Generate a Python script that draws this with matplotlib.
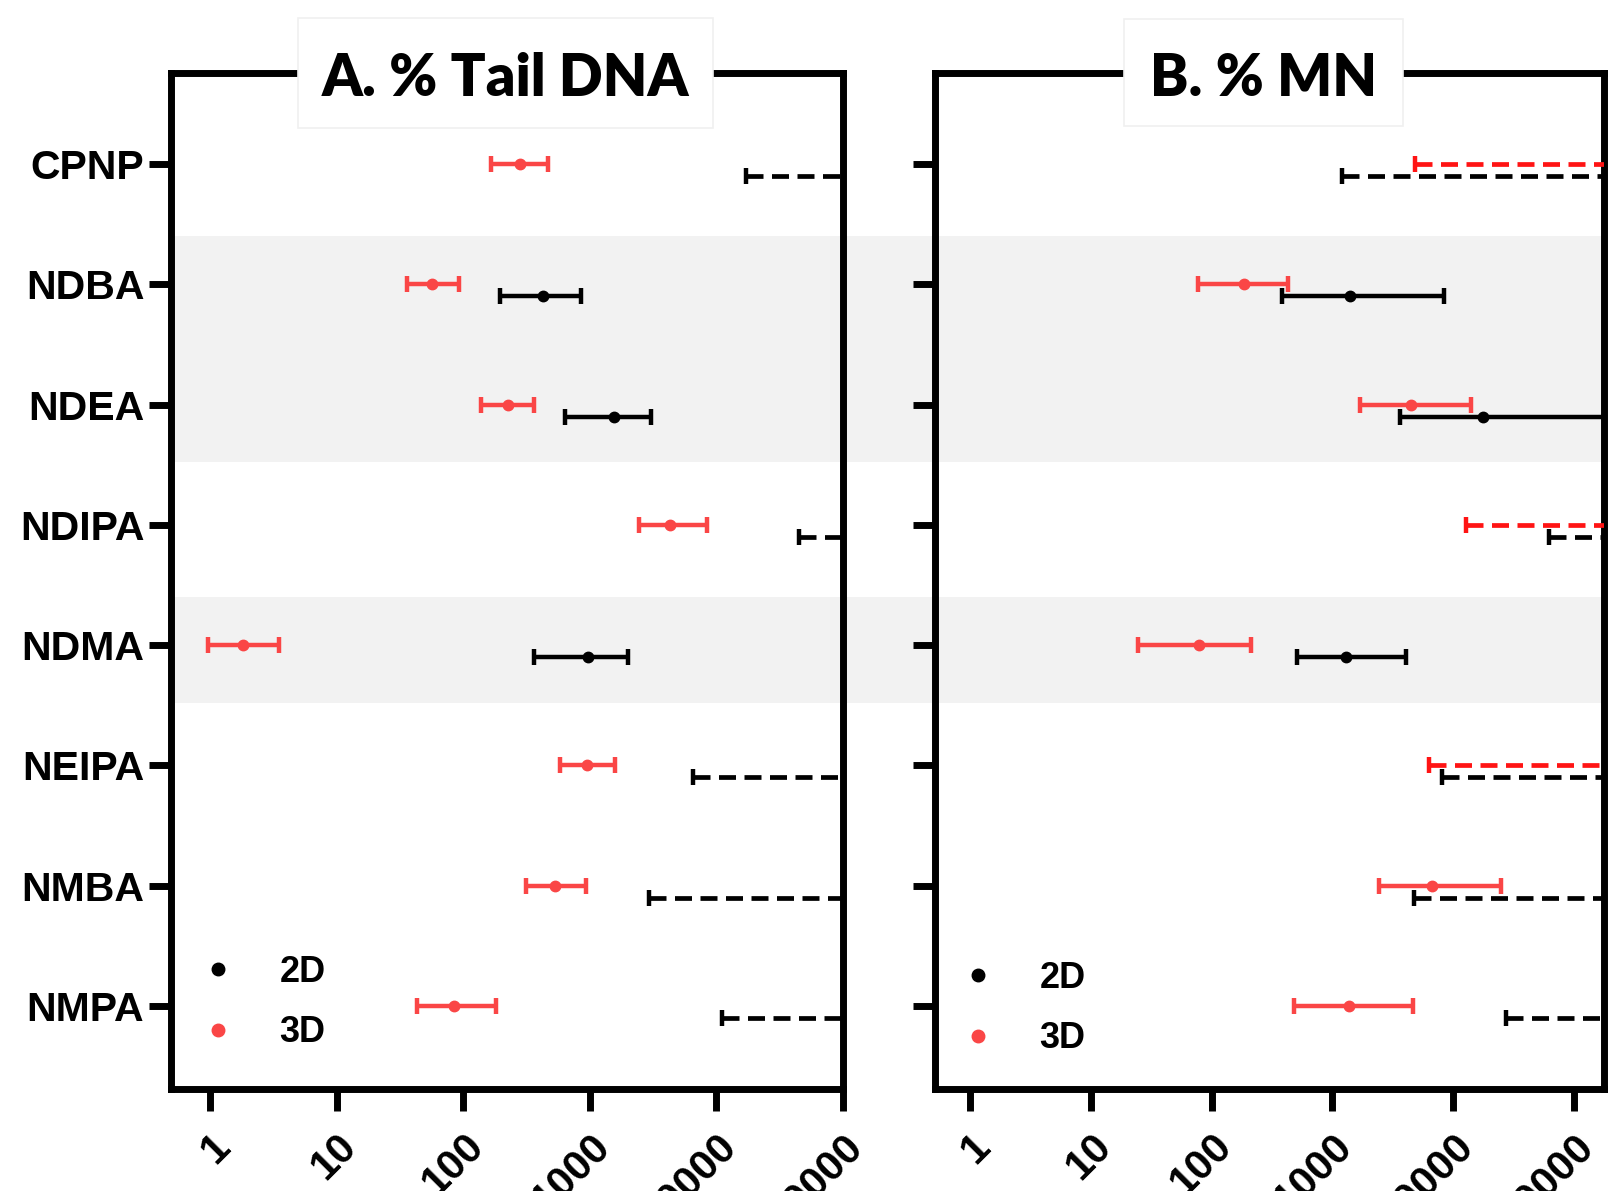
import numpy as np
import matplotlib
matplotlib.use("Agg")
import matplotlib.pyplot as plt
from matplotlib.patches import Rectangle
from matplotlib.lines import Line2D
from matplotlib import font_manager

# ---------------- data ----------------
categories = ['CPNP', 'NDBA', 'NDEA', 'NDIPA', 'NDMA', 'NEIPA', 'NMBA', 'NMPA']
OPEN = np.nan  # open-ended (lower bound only, dashed to axis end)

# Panel A: % Tail DNA
a_2d_center = [np.nan, 424, 1555, np.nan, 970, np.nan, np.nan, np.nan]
a_2d_low    = [17000, 195, 641, 45300, 364, 6500, 2950, 11000]
a_2d_high   = [OPEN, 850, 3060, OPEN, 2020, OPEN, OPEN, OPEN]
a_3d_center = [280, 57, 227, 4300, 1.83, 952, 531, 84]
a_3d_low    = [165, 36, 139, 2440, 0.96, 583, 313, 43]
a_3d_high   = [466, 92, 364, 8470, 3.53, 1585, 934, 181]

# Panel B: % MN
b_2d_center = [np.nan, 1404, 17600, np.nan, 1297, np.nan, np.nan, np.nan]
b_2d_low    = [1200, 381, 3625, 62200, 513, 8140, 4780, 27700]
b_2d_high   = [OPEN, 8470, 260000, OPEN, 4075, OPEN, OPEN, OPEN]
b_3d_center = [np.nan, 184, 4505, np.nan, 78.6, np.nan, 6680, 1377]
b_3d_low    = [4870, 77, 1710, 12800, 24.5, 6300, 2440, 483]
b_3d_high   = [OPEN, 430, 14150, OPEN, 211, OPEN, 25100, 4680]

xtick_vals = [1, 10, 100, 1000, 10000, 100000]
xtick_labels = ['1', '10', '100', '1000', '10000', '100000']
titles = ['A. % Tail DNA', 'B. % MN']
series_labels = ['2D', '3D']
shaded_groups = [(1, 2), (4, 4)]

# ---------------- style ----------------
BLACK = '#000000'
RED = '#fa4646'
RED_DASH = '#ff1414'
BAND = '#f2f2f2'
LABEL_FONT = 'Liberation Sans'
TITLE_FONT = 'Lato'

installed = {f.name for f in font_manager.fontManager.ttflist}
if 'Liberation Sans Narrow' in installed:
    CAT_FONT, CAT_SIZE = 'Liberation Sans Narrow', 33
else:
    CAT_FONT, CAT_SIZE = 'Liberation Sans', 29.5

W, H = 1624, 1191
fig = plt.figure(figsize=(W / 100, H / 100), dpi=100)


def fx(px):
    return px / W


def fy(py):
    return 1 - py / H


axA = fig.add_axes([fx(170.7), fy(1089), fx(672.3), 1016.5 / H])
axB = fig.add_axes([fx(934.6), fy(1089), fx(669.4), 1016.5 / H])

xlims = [(0.49, 100000), (0.507, 178000)]
YLIM = (7.69, -0.76)
OFF_2D = 0.10
OFF_3D = 0.0
DASH = (0, (3.6, 1.8))


def draw_series(ax, center, low, high, yoff, color, dash_color):
    xmax = ax.get_xlim()[1]
    ys = np.arange(len(categories)) + yoff
    for y, c, lo, hi in zip(ys, center, low, high):
        if np.isnan(c):
            # lower bound only: dashed line to the axis end
            ax.plot([lo, xmax], [y, y], color=dash_color, lw=3.4, ls=DASH,
                    solid_capstyle='butt', dash_capstyle='butt', zorder=3)
            ax.plot([lo], [y], marker='|', ms=11, mew=3.2, color=dash_color, zorder=3)
        else:
            ax.errorbar([c], [y], xerr=[[c - lo], [hi - c]], fmt='o', ms=7.5,
                        color=color, ecolor=color, elinewidth=3.2, capsize=5.5,
                        capthick=3.2, zorder=3)


for ax, xl in zip([axA, axB], xlims):
    ax.set_xscale('log')
    ax.set_xlim(*xl)
    ax.set_ylim(*YLIM)
    ax.set_facecolor('none')
    for s in ax.spines.values():
        s.set_linewidth(5)
        s.set_color(BLACK)
    ax.set_xticks(xtick_vals)
    ax.xaxis.set_minor_locator(matplotlib.ticker.NullLocator())
    ax.set_xticklabels(xtick_labels, rotation=45, ha='right', va='top',
                       rotation_mode='anchor', fontsize=30, fontweight='bold',
                       family=LABEL_FONT)
    ax.tick_params(axis='x', length=16, width=5, pad=11)
    ax.set_yticks(np.arange(len(categories)))
    ax.tick_params(axis='y', length=16, width=5, pad=3)

axA.set_yticklabels(categories, fontsize=CAT_SIZE, fontweight='bold', family=CAT_FONT)
axB.set_yticklabels([])

draw_series(axA, a_3d_center, a_3d_low, a_3d_high, OFF_3D, RED, RED)
draw_series(axA, a_2d_center, a_2d_low, a_2d_high, OFF_2D, BLACK, BLACK)
draw_series(axB, b_3d_center, b_3d_low, b_3d_high, OFF_3D, RED, RED_DASH)
draw_series(axB, b_2d_center, b_2d_low, b_2d_high, OFF_2D, BLACK, BLACK)

# shaded bands spanning both panels (figure-level, behind axes)
left_px = fx(175)
right_px = fx(1602)
for g0, g1 in shaded_groups:
    y_top = fig.transFigure.inverted().transform(axA.transData.transform((1, g0 - 0.40)))[1]
    y_bot = fig.transFigure.inverted().transform(axA.transData.transform((1, g1 + 0.48)))[1]
    fig.patches.append(Rectangle((left_px, y_bot), right_px - left_px, y_top - y_bot,
                                 transform=fig.transFigure, facecolor=BAND,
                                 edgecolor='none', zorder=-5))

# title boxes overlapping the top spine
title_boxes = [(298, 713, 18, 128), (1124, 1403, 19, 126)]
for (x0, x1, y0, y1), t in zip(title_boxes, titles):
    fig.patches.append(Rectangle((fx(x0), fy(y1)), fx(x1 - x0), (y1 - y0) / H,
                                 transform=fig.transFigure, facecolor='white',
                                 edgecolor='#f0f0f0', lw=1.2, zorder=10))
    fig.text(fx((x0 + x1) / 2), fy(78), t, ha='center', va='center',
             fontsize=41.5, fontweight='heavy', family=TITLE_FONT, zorder=11)

# legends
handles = [Line2D([], [], ls='none', marker='o', ms=9, color=BLACK),
           Line2D([], [], ls='none', marker='o', ms=9, color=RED)]
for ax, anchor in [(axA, (0.0466, 0.0850)), (axB, (0.0405, 0.079))]:
    ax.legend(handles, series_labels, loc='center left', bbox_to_anchor=anchor,
              frameon=False, borderpad=0, borderaxespad=0, handlelength=0.9,
              handletextpad=1.25, labelspacing=0.70,
              prop={'family': LABEL_FONT, 'weight': 'bold', 'size': 26})

fig.savefig('out.png', dpi=100)
